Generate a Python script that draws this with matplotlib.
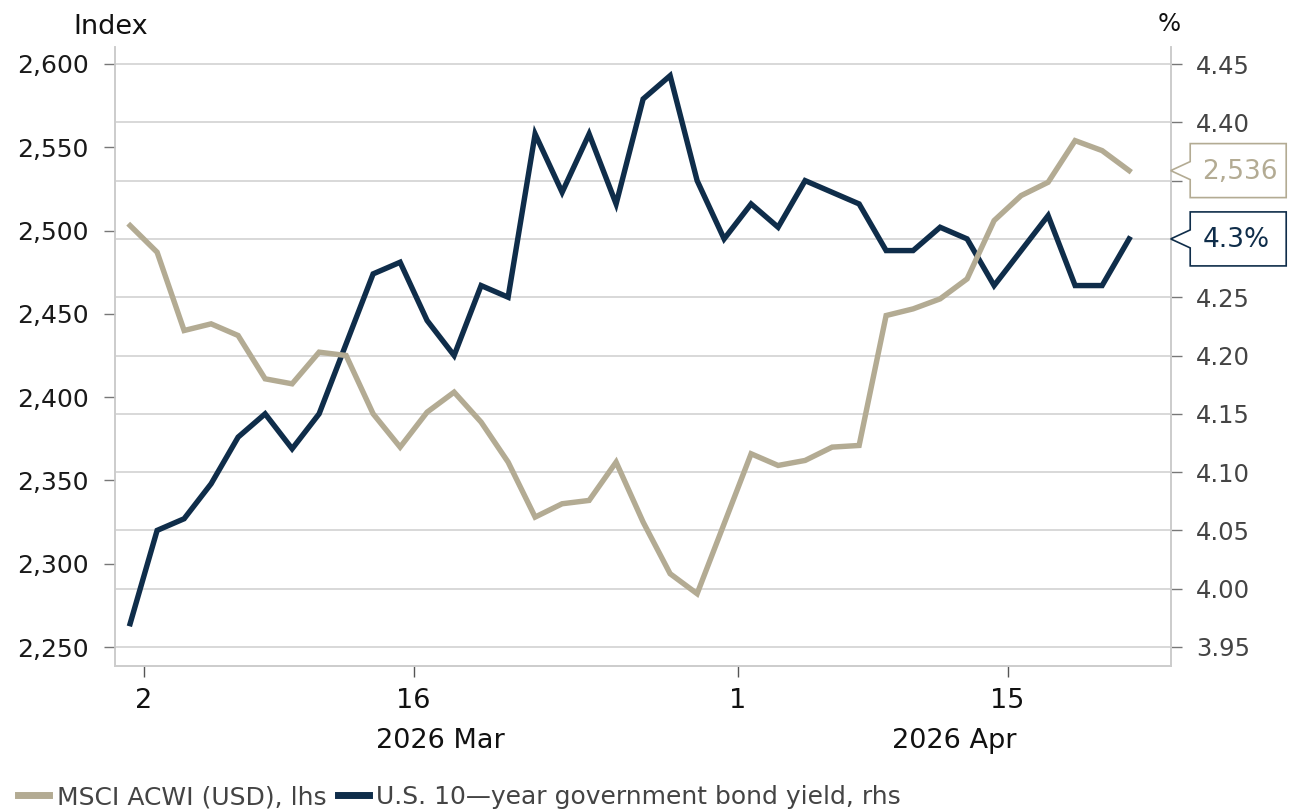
import matplotlib
matplotlib.use("Agg")
import matplotlib.pyplot as plt
import matplotlib.transforms as mtransforms
from matplotlib.patches import Polygon
from matplotlib.lines import Line2D
import numpy as np

plt.rcParams['font.family'] = 'DejaVu Sans'

# =====================================================
# DATA (daily closes, 27 Feb - 21 Apr 2026, trading days)
# =====================================================

msci_acwi = [2503, 2487, 2440, 2444, 2437, 2411, 2408, 2427, 2425, 2390,
             2370, 2391, 2403, 2385, 2361, 2328, 2336, 2338, 2361, 2325,
             2294, 2282, 2324, 2366, 2359, 2362, 2370, 2371, 2449, 2453,
             2459, 2471, 2506, 2521, 2529, 2554, 2548, 2536]

us10y = [3.97, 4.05, 4.06, 4.09, 4.13, 4.15, 4.12, 4.15, 4.21, 4.27,
         4.28, 4.23, 4.20, 4.26, 4.25, 4.39, 4.34, 4.39, 4.33, 4.42,
         4.44, 4.35, 4.30, 4.33, 4.31, 4.35, 4.34, 4.33, 4.29, 4.29,
         4.31, 4.30, 4.26, 4.29, 4.32, 4.26, 4.26, 4.30]

day_ticks = [0.5, 10.5, 22.5, 32.5]
day_labels = ["2", "16", "1", "15"]
month_labels = ["2026 Mar", "2026 Apr"]

left_ticks = [2250, 2300, 2350, 2400, 2450, 2500, 2550, 2600]
right_ticks = [3.95, 4.00, 4.05, 4.10, 4.15, 4.20, 4.25, 4.30, 4.35, 4.40, 4.45]
# right-hand tick labels that sit behind the last-value boxes
covered_ticks = [4.30, 4.35]

GOLD = "#b3ab93"
NAVY = "#0f2d4a"
GRID = "#d2d2d2"

x = np.arange(len(msci_acwi))

fig = plt.figure(figsize=(12.91, 8.09), dpi=100)
ax = fig.add_axes([115 / 1291, 1 - 666 / 809, (1170.7 - 115) / 1291, (666 - 47) / 809])
axl = ax.twinx()

# ---------------- right axis: yield (carries the grid) ----------------
ax.plot(x, us10y, color=NAVY, lw=3.9, solid_joinstyle='miter', zorder=3)
ax.set_ylim(3.9337, 4.4646)
ax.set_yticks(right_ticks)
ax.set_yticklabels(["" if v in covered_ticks else f"{v:.2f}" for v in right_ticks])
ax.yaxis.tick_right()
ax.grid(axis='y', color=GRID, lw=1.2)
ax.tick_params(axis='y', which='both', right=True, left=False, length=8,
               width=1, color="#777777", labelsize=17.5, labelcolor="#444444", pad=10)

# ---------------- left axis: index ----------------
axl.plot(x, msci_acwi, color=GOLD, lw=3.9, solid_joinstyle='miter', zorder=3)
axl.set_ylim(2238.6, 2610.2)
axl.set_yticks(left_ticks)
axl.set_yticklabels([f"{v:,}" for v in left_ticks])
axl.yaxis.tick_left()
axl.tick_params(axis='y', length=8, width=1, color="#777777",
                labelsize=18, labelcolor="#1a1a1a", pad=11)

# ---------------- x axis ----------------
ax.set_xlim(-0.56, 38.54)
ax.set_xticks(day_ticks)
ax.set_xticklabels(day_labels)
ax.tick_params(axis='x', length=8, width=1, color="#555555",
               labelsize=19.5, labelcolor="#111111", pad=8, direction='out')

for a in (ax, axl):
    a.spines['top'].set_visible(False)
    for s in ('left', 'right', 'bottom'):
        a.spines[s].set_color("#cccccc")
        a.spines[s].set_linewidth(1.2)

# month labels under the day ticks
xl = ax.get_xlim()
month_centres = [(day_ticks[0] + day_ticks[2]) / 2, (day_ticks[2] + xl[1]) / 2]
for xc, lab in zip(month_centres, month_labels):
    ax.text(xc, -0.1, lab, transform=ax.get_xaxis_transform(), ha='center',
            va='top', fontsize=19.5, color="#111111")

# axis titles
fig.text(73 / 1291, 1 - 34 / 809, "Index", fontsize=19.5, color="#111111", va='baseline')
fig.text(1169 / 1291, 1 - 31 / 809, "%", fontsize=17.5, color="#111111",
         va='baseline', ha='center')

# =====================================================
# LAST-VALUE CALLOUTS
# =====================================================

def callout(axis, value, text, color):
    anchor = mtransforms.ScaledTranslation(1.0, value, axis.get_yaxis_transform())
    tr = mtransforms.Affine2D().scale(0.01) + fig.dpi_scale_trans + anchor
    verts = [(0, 0), (19.5, 9), (19.5, 27), (115.5, 27),
             (115.5, -27), (19.5, -27), (19.5, -9)]
    fig.add_artist(Polygon(verts, closed=True, transform=tr, facecolor='white',
                           edgecolor=color, lw=1.2, clip_on=False))
    fig.text(31.5, -1, text, transform=tr, ha='left', va='center',
             fontsize=19, color=color)

callout(axl, msci_acwi[-1], f"{msci_acwi[-1]:,}", GOLD)
callout(ax, us10y[-1], f"{us10y[-1]:.1f}%", NAVY)

# =====================================================
# LEGEND
# =====================================================

handles = [Line2D([], [], color=GOLD, lw=5),
           Line2D([], [], color=NAVY, lw=5)]
labels = ["MSCI ACWI (USD), lhs", "U.S. 10\u2014year government bond yield, rhs"]
fig.legend(handles, labels, loc='center left', bbox_to_anchor=(18 / 1291, 1 - 797 / 809),
           ncol=2, frameon=False, fontsize=18, handlelength=1.25, handletextpad=0.3,
           columnspacing=0.45, borderpad=0, borderaxespad=0, labelcolor="#444444")

fig.savefig("out.png", dpi=100)
